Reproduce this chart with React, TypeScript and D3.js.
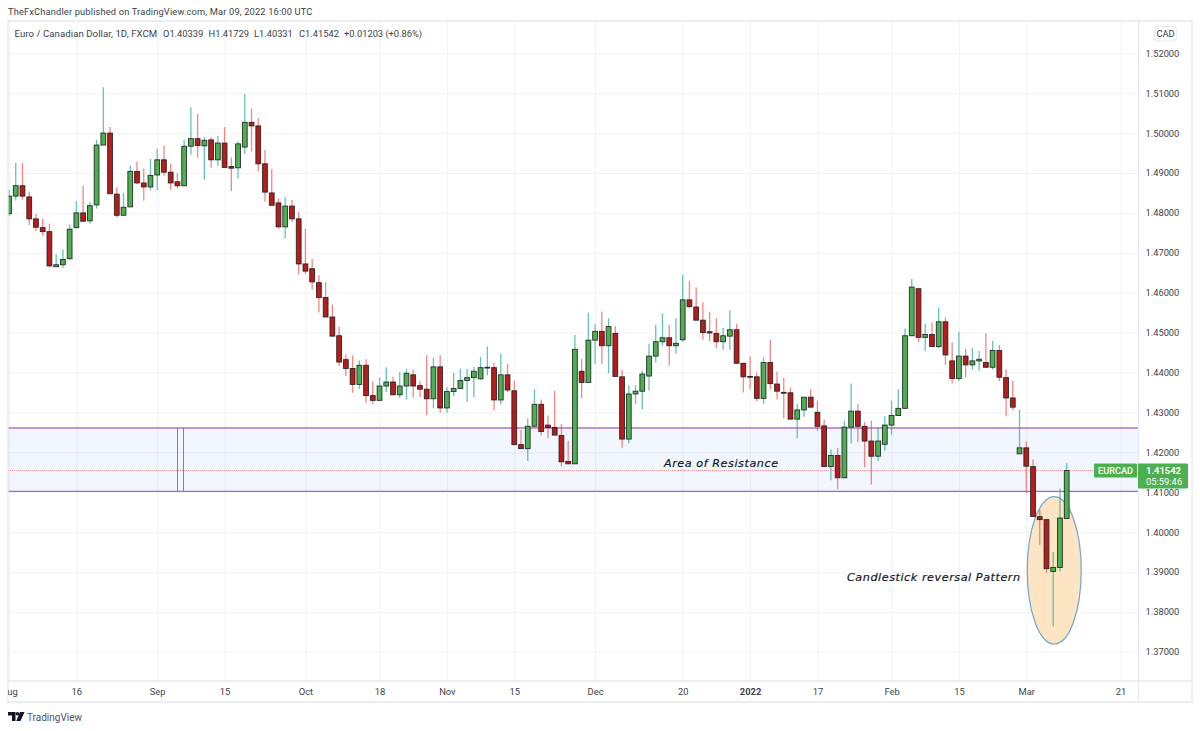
import { useEffect, useRef } from "react";
import * as d3 from "d3";

const opens = [
  1.4798, 1.4842, 1.4868, 1.484, 1.4785, 1.4763, 1.4753, 1.4665, 1.467, 1.4685,
  1.4763, 1.48, 1.478, 1.482, 1.497, 1.5, 1.4847, 1.4794, 1.4815, 1.4904,
  1.4875, 1.4865, 1.4895, 1.4933, 1.4902, 1.4878, 1.4868, 1.4967, 1.4986, 1.4968,
  1.4983, 1.4933, 1.4975, 1.4916, 1.4913, 1.4965, 1.5027, 1.5018, 1.4923, 1.485,
  1.4825, 1.4765, 1.4817, 1.4785, 1.4672, 1.466, 1.4625, 1.4588, 1.4539, 1.4492,
  1.4432, 1.441, 1.437, 1.4418, 1.4342, 1.433, 1.4366, 1.4376, 1.4344, 1.4366,
  1.4394, 1.4367, 1.4358, 1.4334, 1.4414, 1.4311, 1.4352, 1.436, 1.438, 1.4387,
  1.4384, 1.4411, 1.4412, 1.4331, 1.4394, 1.4354, 1.4219, 1.4209, 1.4265, 1.432,
  1.4268, 1.4262, 1.4242, 1.4177, 1.4171, 1.4403, 1.4375, 1.4481, 1.4503, 1.4467,
  1.4498, 1.4389, 1.4233, 1.4346, 1.4353, 1.4391, 1.4441, 1.4477, 1.4487, 1.4467,
  1.4482, 1.4582, 1.4564, 1.4531, 1.4502, 1.4498, 1.4477, 1.4491, 1.4507, 1.4423,
  1.439, 1.4389, 1.4335, 1.4425, 1.4371, 1.435, 1.4349, 1.4283, 1.4306, 1.4338,
  1.43, 1.4266, 1.4164, 1.4192, 1.4136, 1.4263, 1.4303, 1.4265, 1.4228, 1.419,
  1.422, 1.4268, 1.4292, 1.431, 1.4492, 1.461, 1.4488, 1.4495, 1.4465, 1.4527,
  1.4429, 1.4385, 1.4441, 1.4419, 1.4429, 1.4425, 1.4413, 1.4455, 1.4387, 1.4336,
  1.4196, 1.4211, 1.4164, 1.40385, 1.4031, 1.3901, 1.3911, 1.40339,
];
const highs = [
  1.4858, 1.4925, 1.4925, 1.4853, 1.4798, 1.4785, 1.4773, 1.4696, 1.4708, 1.477,
  1.4829, 1.4868, 1.4828, 1.4983, 1.5115, 1.5015, 1.4865, 1.485, 1.4918, 1.4928,
  1.4911, 1.4935, 1.4961, 1.4968, 1.4923, 1.49, 1.4983, 1.5065, 1.5048, 1.499,
  1.4989, 1.4993, 1.5015, 1.4939, 1.4979, 1.5098, 1.5061, 1.5038, 1.4958, 1.491,
  1.4836, 1.484, 1.4832, 1.4803, 1.4761, 1.4685, 1.4644, 1.4626, 1.457, 1.4515,
  1.4445, 1.4443, 1.443, 1.4433, 1.4378, 1.4387, 1.4413, 1.4389, 1.4402, 1.4409,
  1.4407, 1.4379, 1.4443, 1.4437, 1.4443, 1.4363, 1.4399, 1.4409, 1.4409, 1.4414,
  1.4439, 1.4465, 1.4424, 1.4447, 1.4422, 1.4379, 1.4256, 1.4285, 1.4358, 1.4332,
  1.4292, 1.4354, 1.4271, 1.4229, 1.4494, 1.4434, 1.4549, 1.4522, 1.4553, 1.4536,
  1.4516, 1.4407, 1.4368, 1.4368, 1.4404, 1.4472, 1.4519, 1.4548, 1.4519, 1.4536,
  1.4645, 1.4629, 1.4613, 1.4576, 1.4552, 1.4536, 1.4512, 1.4556, 1.4522, 1.4423,
  1.444, 1.44, 1.4438, 1.4482, 1.4402, 1.4386, 1.4362, 1.4321, 1.4338, 1.4358,
  1.4329, 1.4282, 1.4207, 1.4211, 1.4279, 1.4372, 1.4321, 1.4276, 1.4279, 1.4263,
  1.429, 1.4329, 1.4358, 1.451, 1.4634, 1.461, 1.4522, 1.4526, 1.4562, 1.4538,
  1.4476, 1.4502, 1.4459, 1.4461, 1.4454, 1.4498, 1.4479, 1.4469, 1.4408, 1.4379,
  1.4307, 1.4227, 1.4182, 1.4055, 1.4031, 1.395, 1.4109, 1.41729,
];
const lows = [
  1.4793, 1.4831, 1.4833, 1.4769, 1.4754, 1.4742, 1.4665, 1.4665, 1.4662, 1.4683,
  1.4761, 1.4779, 1.4773, 1.4811, 1.497, 1.4848, 1.4789, 1.4794, 1.4815, 1.4871,
  1.4831, 1.4857, 1.4857, 1.4893, 1.4858, 1.4862, 1.4868, 1.4946, 1.4938, 1.4883,
  1.4913, 1.4918, 1.4914, 1.4854, 1.4886, 1.4948, 1.4954, 1.4904, 1.4828, 1.4819,
  1.476, 1.4736, 1.4777, 1.4646, 1.4646, 1.4608, 1.4551, 1.4539, 1.4491, 1.4416,
  1.4391, 1.4349, 1.4359, 1.4324, 1.432, 1.433, 1.4351, 1.4344, 1.4336, 1.4332,
  1.4338, 1.4338, 1.4293, 1.431, 1.4299, 1.4299, 1.4341, 1.4358, 1.4326, 1.4338,
  1.4382, 1.4393, 1.4305, 1.432, 1.4351, 1.4219, 1.4209, 1.4178, 1.4265, 1.4242,
  1.4235, 1.4243, 1.4165, 1.4171, 1.4171, 1.4335, 1.4375, 1.4421, 1.4421, 1.4398,
  1.439, 1.4211, 1.4222, 1.4321, 1.4307, 1.4355, 1.4425, 1.4467, 1.4418, 1.4447,
  1.4477, 1.4561, 1.4531, 1.4482, 1.4478, 1.4461, 1.4457, 1.4456, 1.4423, 1.435,
  1.4357, 1.4328, 1.4321, 1.4358, 1.4332, 1.4285, 1.4283, 1.4235, 1.4289, 1.4313,
  1.4254, 1.4164, 1.413, 1.4107, 1.4136, 1.4222, 1.4225, 1.4163, 1.4119, 1.4178,
  1.4204, 1.4244, 1.4292, 1.431, 1.4492, 1.4476, 1.4453, 1.4465, 1.446, 1.4419,
  1.4372, 1.4378, 1.4388, 1.4407, 1.4404, 1.4413, 1.4407, 1.4378, 1.429, 1.4305,
  1.4196, 1.4097, 1.4039, 1.3968, 1.3897, 1.3764, 1.3901, 1.40331,
];
const closes = [
  1.4842, 1.4868, 1.4842, 1.4785, 1.4764, 1.4753, 1.4667, 1.467, 1.4683, 1.4759,
  1.48, 1.4779, 1.4818, 1.497, 1.5, 1.4848, 1.4794, 1.4814, 1.4904, 1.4875,
  1.4865, 1.4894, 1.4933, 1.4902, 1.4875, 1.4868, 1.4967, 1.4986, 1.4969, 1.4982,
  1.4933, 1.4975, 1.4914, 1.4912, 1.4973, 1.5027, 1.5018, 1.4923, 1.4852, 1.4819,
  1.4765, 1.4817, 1.4785, 1.4672, 1.4654, 1.4627, 1.4588, 1.4539, 1.4491, 1.4426,
  1.441, 1.437, 1.4418, 1.4342, 1.433, 1.4366, 1.4376, 1.4344, 1.4366, 1.4398,
  1.4366, 1.4358, 1.4334, 1.4414, 1.4311, 1.4352, 1.436, 1.438, 1.4387, 1.4403,
  1.4412, 1.4413, 1.4331, 1.4394, 1.4356, 1.4219, 1.4209, 1.4265, 1.432, 1.4252,
  1.4262, 1.4243, 1.4176, 1.4171, 1.4458, 1.4375, 1.4481, 1.4503, 1.4467, 1.4515,
  1.439, 1.4233, 1.4346, 1.4353, 1.4396, 1.4441, 1.4477, 1.4487, 1.4467, 1.4473,
  1.4582, 1.4565, 1.4531, 1.45, 1.4499, 1.4477, 1.4492, 1.4507, 1.4423, 1.4389,
  1.4388, 1.4335, 1.4425, 1.4372, 1.4353, 1.4348, 1.4283, 1.4306, 1.4338, 1.4313,
  1.4265, 1.4164, 1.4192, 1.4136, 1.4263, 1.4303, 1.4265, 1.4228, 1.419, 1.4228,
  1.4268, 1.4292, 1.431, 1.4492, 1.4614, 1.4488, 1.4495, 1.4465, 1.4527, 1.4444,
  1.4385, 1.4441, 1.4419, 1.4429, 1.4433, 1.4413, 1.4455, 1.4388, 1.4336, 1.4313,
  1.4211, 1.4165, 1.4039, 1.4031, 1.3908, 1.3911, 1.4035, 1.41542,
];

// bar index of each date label on the time axis
const dateTicks = [0, 10, 22, 32, 44, 55, 65, 75, 87, 100, 110, 120, 131, 141, 151, 165];
const dateLabels = ["Aug", "16", "Sep", "15", "Oct", "18", "Nov", "15", "Dec", "20", "2022", "17", "Feb", "15", "Mar", "21"];
const priceTicks = [1.37, 1.38, 1.39, 1.4, 1.41, 1.42, 1.43, 1.44, 1.45, 1.46, 1.47, 1.48, 1.49, 1.5, 1.51, 1.52];

const zoneTop = 1.4261;
const zoneBottom = 1.4102;
const lastPrice = 1.41542;

const uiFont = "Roboto, 'Open Sans', sans-serif";
const noteFont = "'DejaVu Sans', sans-serif";
const gridColor = "#f2f3f8";
const borderColor = "#e6e8ef";
const axisText = "#3c3f48";

const App = () => {
  const svgRef = useRef<SVGSVGElement | null>(null);

  const width = 1200;
  const height = 731;

  useEffect(() => {
    if (!svgRef.current) return;
    const svg = d3.select(svgRef.current);
    svg.selectAll("*").remove();

    const pane = { top: 21, right: 1138.5, bottom: 681, left: 8 };
    const outerRight = 1192;
    const outerBottom = 702;

    const x = d3.scaleLinear().domain([0, 157]).range([9, 1066.7]);
    const y = d3.scaleLinear().domain([1.37, 1.52]).range([651.7, 53.3]);

    svg
      .append("defs")
      .append("clipPath")
      .attr("id", "pane")
      .append("rect")
      .attr("x", pane.left)
      .attr("y", pane.top)
      .attr("width", pane.right - pane.left)
      .attr("height", outerBottom - pane.top);

    svg.append("rect").attr("width", width).attr("height", height).attr("fill", "#fff");

    // grid
    const xGrid = d3
      .axisBottom(x)
      .tickValues(dateTicks)
      .tickSize(pane.bottom - pane.top)
      .tickFormat(() => "");
    const xGridG = svg
      .append("g")
      .attr("clip-path", "url(#pane)")
      .append("g")
      .attr("transform", `translate(0,${pane.top})`)
      .call(xGrid);
    xGridG.select(".domain").remove();
    xGridG.selectAll("line").attr("stroke", gridColor).attr("stroke-width", 1);

    const yGrid = d3
      .axisLeft(y)
      .tickValues(priceTicks)
      .tickSize(pane.right - pane.left)
      .tickFormat(() => "");
    const yGridG = svg.append("g").attr("transform", `translate(${pane.right},0)`).call(yGrid);
    yGridG.select(".domain").remove();
    yGridG.selectAll("line").attr("stroke", gridColor).attr("stroke-width", 1);

    // resistance zone
    svg
      .append("rect")
      .attr("x", pane.left)
      .attr("y", y(zoneTop))
      .attr("width", pane.right - pane.left)
      .attr("height", y(zoneBottom) - y(zoneTop))
      .attr("fill", "#2962ff")
      .attr("fill-opacity", 0.06);
    svg
      .append("line")
      .attr("x1", pane.left)
      .attr("x2", pane.right)
      .attr("y1", y(zoneTop))
      .attr("y2", y(zoneTop))
      .attr("stroke", "#c492d8")
      .attr("stroke-width", 2);
    svg
      .append("line")
      .attr("x1", pane.left)
      .attr("x2", pane.right)
      .attr("y1", y(zoneBottom))
      .attr("y2", y(zoneBottom))
      .attr("stroke", "#a668c4")
      .attr("stroke-width", 1.2);
    [177.5, 183.5].forEach((px) => {
      svg
        .append("line")
        .attr("x1", px)
        .attr("x2", px)
        .attr("y1", y(zoneTop))
        .attr("y2", y(zoneBottom))
        .attr("stroke", "#a668c4")
        .attr("stroke-width", 1);
    });

    // reversal ellipse goes under the candles
    svg
      .append("ellipse")
      .attr("cx", x(155.15))
      .attr("cy", y(1.3904))
      .attr("rx", 27)
      .attr("ry", 73.7)
      .attr("fill", "#fde5c3")
      .attr("stroke", "#6fa5d2")
      .attr("stroke-width", 1.2);

    // last price line
    svg
      .append("line")
      .attr("x1", pane.left)
      .attr("x2", pane.right)
      .attr("y1", y(lastPrice))
      .attr("y2", y(lastPrice))
      .attr("stroke", "#ef5350")
      .attr("stroke-opacity", 0.6)
      .attr("stroke-width", 1)
      .attr("stroke-dasharray", "1,1");

    const bars = d3.range(closes.length);
    const isUp = (i: number) => closes[i] >= opens[i];
    const candles = svg.append("g").attr("clip-path", "url(#pane)");

    candles
      .selectAll("line")
      .data(bars)
      .enter()
      .append("line")
      .attr("x1", (i) => x(i))
      .attr("x2", (i) => x(i))
      .attr("y1", (i) => y(highs[i]))
      .attr("y2", (i) => y(lows[i]))
      .attr("stroke", (i) => (isUp(i) ? "#26a69a" : "#ef5350"))
      .attr("stroke-opacity", 0.7)
      .attr("stroke-width", 1.3);

    candles
      .selectAll("rect")
      .data(bars)
      .enter()
      .append("rect")
      .attr("x", (i) => x(i) - 2.4)
      .attr("width", 4.8)
      .attr("y", (i) => y(Math.max(opens[i], closes[i])))
      .attr("height", (i) => Math.max(0.8, Math.abs(y(opens[i]) - y(closes[i]))))
      .attr("fill", (i) => (isUp(i) ? "#4caf50" : "#b71c1c"))
      .attr("stroke", "#1c1c1c")
      .attr("stroke-opacity", 0.9)
      .attr("stroke-width", 0.9);

    // frame
    svg
      .append("path")
      .attr("fill", "none")
      .attr("stroke", borderColor)
      .attr("stroke-width", 1.3)
      .attr(
        "d",
        d3.line()([
          [pane.left, pane.top],
          [outerRight, pane.top],
          [outerRight, outerBottom],
          [pane.left, outerBottom],
          [pane.left, pane.top],
        ]) as string
      );
    svg
      .append("line")
      .attr("x1", pane.right)
      .attr("x2", pane.right)
      .attr("y1", pane.top)
      .attr("y2", outerBottom)
      .attr("stroke", borderColor)
      .attr("stroke-width", 1.3);
    svg
      .append("line")
      .attr("x1", pane.left)
      .attr("x2", outerRight)
      .attr("y1", pane.bottom)
      .attr("y2", pane.bottom)
      .attr("stroke", borderColor)
      .attr("stroke-width", 1.3);

    // axes
    const yAxis = d3
      .axisRight(y)
      .tickValues(priceTicks)
      .tickSize(0)
      .tickPadding(7)
      .tickFormat((d) => d3.format(".5f")(d as number));
    const yAxisG = svg.append("g").attr("transform", `translate(${pane.right},0)`).call(yAxis);
    yAxisG.select(".domain").remove();
    yAxisG
      .selectAll("text")
      .attr("fill", axisText)
      .attr("font-family", uiFont)
      .attr("font-size", 9.3);

    const xAxis = d3
      .axisBottom(x)
      .tickValues(dateTicks)
      .tickSize(0)
      .tickPadding(7)
      .tickFormat((_, i) => dateLabels[i]);
    const xAxisG = svg
      .append("g")
      .attr("clip-path", "url(#pane)")
      .append("g")
      .attr("transform", `translate(0,${pane.bottom})`)
      .call(xAxis);
    xAxisG.select(".domain").remove();
    xAxisG
      .selectAll("text")
      .attr("fill", axisText)
      .attr("font-family", uiFont)
      .attr("font-size", 9.4)
      .attr("font-weight", (_, i) => (dateLabels[i] === "2022" ? 700 : 400));

    const label = (
      txt: string,
      px: number,
      py: number,
      size: number,
      fill: string,
      family = uiFont
    ) =>
      svg
        .append("text")
        .attr("x", px)
        .attr("y", py)
        .attr("font-family", family)
        .attr("font-size", size)
        .attr("fill", fill)
        .text(txt);

    label("TheFxChandler published on TradingView.com, Mar 09, 2022 16:00 UTC", 8, 15, 9.3, "#3c3f48").attr("letter-spacing", 0.15);
    label("Euro / Canadian Dollar, 1D, FXCM", 14.5, 36.5, 9.6, "#3c3f48").attr("letter-spacing", 0.07);
    label("O1.40339", 163, 36.5, 9.3, "#3c3f48");
    label("H1.41729", 208.5, 36.5, 9.3, "#3c3f48");
    label("L1.40331", 254, 36.5, 9.3, "#3c3f48");
    label("C1.41542", 299, 36.5, 9.3, "#3c3f48");
    label("+0.01203 (+0.86%)", 344, 36.5, 9.3, "#3c3f48");

    // currency badge
    svg
      .append("rect")
      .attr("x", 1154.5)
      .attr("y", 26.5)
      .attr("width", 22)
      .attr("height", 14.5)
      .attr("rx", 3)
      .attr("fill", "#fff")
      .attr("stroke", borderColor);
    label("CAD", 1165.5, 37, 9.3, "#3c3f48").attr("text-anchor", "middle");

    // annotations
    label("Area of Resistance", 664, 467, 11.2, "#131722", noteFont)
      .attr("font-style", "italic")
      .attr("letter-spacing", 0.55)
      .attr("stroke", "#131722")
      .attr("stroke-width", 0.2);
    label("Candlestick reversal Pattern", 847, 581, 11.2, "#131722", noteFont)
      .attr("font-style", "italic")
      .attr("letter-spacing", 0.55)
      .attr("stroke", "#131722")
      .attr("stroke-width", 0.2);

    // last price tags
    const tagGreen = "#4caf50";
    svg
      .append("rect")
      .attr("x", 1094)
      .attr("y", y(lastPrice) - 7)
      .attr("width", 43)
      .attr("height", 14)
      .attr("rx", 1)
      .attr("fill", tagGreen);
    label("EURCAD", 1115.5, y(lastPrice) + 3.5, 9.2, "#fff")
      .attr("text-anchor", "middle")
      .attr("font-weight", 500);
    svg
      .append("rect")
      .attr("x", 1138)
      .attr("y", y(lastPrice) - 7)
      .attr("width", 50)
      .attr("height", 25)
      .attr("rx", 1)
      .attr("fill", tagGreen);
    label("1.41542", 1146, y(lastPrice) + 3.5, 9.4, "#fff").attr("font-weight", 700);
    label("05:59:46", 1146, y(lastPrice) + 14.5, 9.4, "#fff");

    // footer logo
    const logo = svg.append("g").attr("fill", "#131722");
    logo.append("path").attr("d", "M8 712H15.5V721H12V715.5H8Z");
    logo.append("circle").attr("cx", 17.5).attr("cy", 713.8).attr("r", 1.8);
    logo.append("path").attr("d", "M20 712H24.5L20.5 721H16.2Z");
    label("TradingView", 27, 721, 10, "#50535e");
  }, []);

  return (
    <svg
      ref={svgRef}
      width={width}
      height={height}
      style={{ position: "absolute", left: 0, top: 0 }}
    />
  );
};

export default App;
